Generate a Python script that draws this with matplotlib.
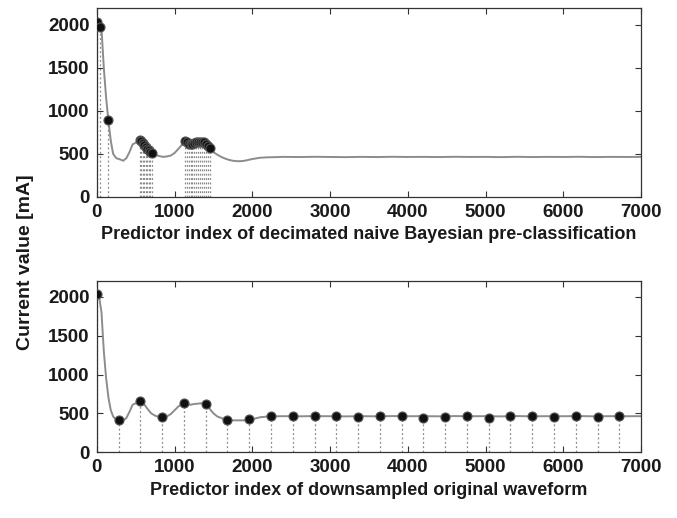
import matplotlib
matplotlib.use("Agg")
import matplotlib.pyplot as plt

plt.rcParams['font.family'] = ['Liberation Sans', 'DejaVu Sans']
plt.rcParams['font.weight'] = 'bold'

# ---- data ----
wave_x = [0, 30, 60, 90, 120, 150, 180, 210, 250, 300, 340, 380, 420, 460, 490, 520, 550,
          600, 650, 700, 750, 800, 850, 900, 950, 1000, 1050, 1100, 1130, 1160, 1200, 1250,
          1300, 1350, 1400, 1450, 1500, 1550, 1600, 1650, 1700, 1750, 1800, 1850, 1900, 1950,
          2000, 2100, 2200, 2300, 2400, 2600, 2800, 3000, 3200, 3400, 3600, 3800, 4000, 4200,
          4400, 4600, 4800, 5000, 5200, 5400, 5600, 5800, 6000, 6200, 6400, 6600, 6800, 7000]

top_wave = [2040, 2010, 1960, 1500, 1150, 880, 650, 500, 450, 435, 420, 450, 520, 610, 625,
            640, 660, 620, 570, 520, 490, 475, 465, 470, 480, 510, 560, 610, 640, 650, 615, 625,
            640, 640, 630, 570, 520, 490, 465, 445, 430, 420, 415, 415, 420, 430,
            440, 455, 460, 462, 465, 463, 466, 464, 462, 465, 463, 466, 464, 465,
            463, 466, 464, 465, 462, 466, 463, 465, 464, 466, 463, 465, 464, 465]

bottom_wave = [2040, 2000, 1800, 1300, 950, 700, 540, 460, 415, 400, 410, 440, 520, 610, 625,
               640, 665, 630, 560, 500, 470, 455, 450, 460, 490, 540, 590, 620, 635, 630, 610, 620,
               625, 630, 625, 560, 500, 460, 440, 420, 410, 410, 410, 410, 410, 412,
               425, 450, 460, 462, 464, 462, 465, 463, 461, 464, 462, 465, 463, 464,
               462, 465, 463, 464, 461, 465, 462, 464, 463, 465, 462, 464, 463, 464]

top_idx = [0, 40, 140,
           550, 570, 590, 610, 630, 650, 670, 690, 710,
           1130, 1155, 1180, 1205, 1230, 1255, 1280, 1305, 1330, 1355, 1380, 1405, 1430, 1450]
top_val = [2040, 1975, 890,
           660, 645, 625, 600, 580, 560, 540, 525, 510,
           650, 640, 620, 610, 620, 630, 640, 640, 640, 640, 635, 620, 590, 565]

bottom_idx = [0, 280, 560, 840, 1120, 1400, 1680, 1960, 2240, 2520, 2800, 3080, 3360,
              3640, 3920, 4200, 4480, 4760, 5040, 5320, 5600, 5880, 6160, 6440, 6720]
bottom_val = [2040, 410, 660, 450, 630, 625, 420, 425, 460, 470, 465, 460, 455,
              460, 470, 445, 455, 460, 445, 465, 460, 450, 465, 455, 465]

x_ticks = [0, 1000, 2000, 3000, 4000, 5000, 6000, 7000]
y_ticks = [0, 500, 1000, 1500, 2000]

top_xlabel = "Predictor index of decimated naive Bayesian pre-classification"
bottom_xlabel = "Predictor index of downsampled original waveform"
ylabel = "Current value [mA]"

# ---- figure ----
fig = plt.figure(figsize=(6.77, 5.18), dpi=100)
ax1 = fig.add_axes([0.143, 0.620, 0.804, 0.365])
ax2 = fig.add_axes([0.143, 0.127, 0.804, 0.330])

def draw(ax, wx, wy, idx, val, xlabel):
    ax.vlines(idx, 0, val, colors='#8a8a8a', linestyles=(0, (1.5, 2.0)), linewidth=0.9, zorder=1)
    ax.plot(wx, wy, color='#8c8c8c', linewidth=1.4, zorder=2)
    ax.plot(idx, val, 'o', color='#111111', markeredgecolor='#555555', markersize=6.5,
            markeredgewidth=0.8, linestyle='none', zorder=3)
    ax.set_xlim(0, 7000)
    ax.set_ylim(0, 2200)
    ax.set_xticks(x_ticks)
    ax.set_yticks(y_ticks)
    ax.tick_params(direction='in', top=True, right=True, labelsize=13.5, length=4,
                   width=0.8, color='#333333', pad=5)
    for lab in ax.get_xticklabels() + ax.get_yticklabels():
        lab.set_fontweight('bold')
        lab.set_color('#1a1a1a')
    for s in ax.spines.values():
        s.set_linewidth(0.9)
        s.set_color('#333333')
    ax.set_xlabel(xlabel, fontsize=13, fontweight='bold', color='#1a1a1a', labelpad=4)

draw(ax1, wave_x, top_wave, top_idx, top_val, top_xlabel)
draw(ax2, wave_x, bottom_wave, bottom_idx, bottom_val, bottom_xlabel)

fig.text(0.038, 0.493, ylabel, rotation=90, fontsize=14, fontweight='bold',
         color='#1a1a1a', ha='center', va='center')

fig.savefig("out.png", dpi=100)
